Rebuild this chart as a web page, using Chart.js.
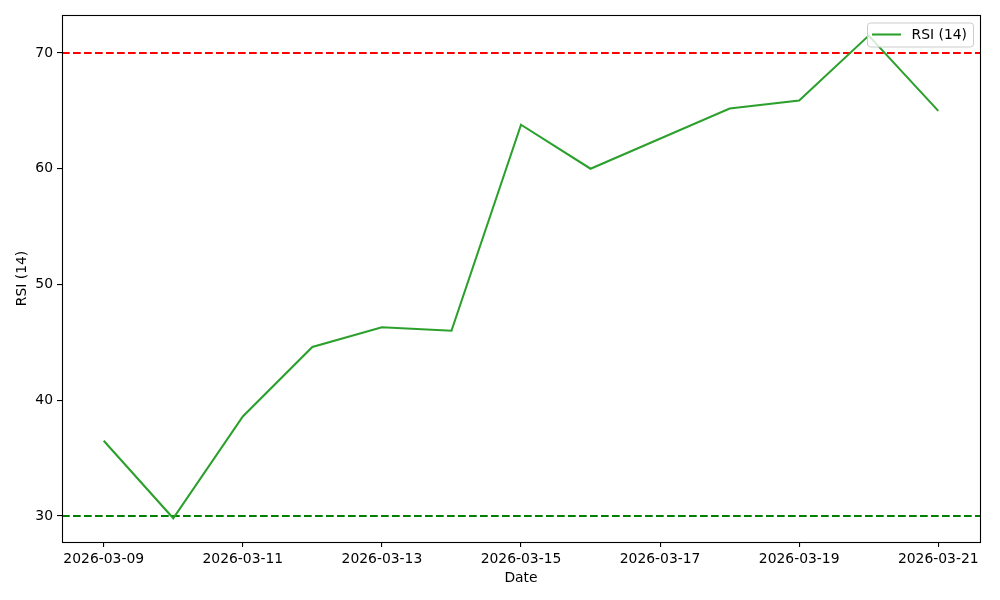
<!DOCTYPE html>
<html>
<head>
<meta charset="utf-8">
<script src="https://cdn.jsdelivr.net/npm/chart.js"></script>
<style>
  html, body { margin: 0; padding: 0; background: #fff; }
  #wrap { width: 1000px; height: 600px; }
</style>
</head>
<body>
<div id="wrap"><canvas id="chart" width="1000" height="600"></canvas></div>
<script>
// RSI readings (2026-03-17 has no point in the source)
const dates = ["2026-03-09", "2026-03-10", "2026-03-11", "2026-03-12", "2026-03-13", "2026-03-14",
               "2026-03-15", "2026-03-16", "2026-03-18", "2026-03-19", "2026-03-20", "2026-03-21"];
const rsiValues = [36.5, 29.8, 38.6, 44.6, 46.3, 46.0, 63.8, 60.0, 65.2, 65.9, 71.5, 65.0];
const xTickLabels = ["2026-03-09", "2026-03-11", "2026-03-13", "2026-03-15", "2026-03-17", "2026-03-19", "2026-03-21"];
const yTickValues = [30, 40, 50, 60, 70];
const overbought = 70;
const oversold = 30;

const DAY = 86400000;
const t0 = Date.parse(dates[0]);
const dayIndex = (d) => Math.round((Date.parse(d) - t0) / DAY);
const points = dates.map((d, i) => ({ x: dayIndex(d), y: rsiValues[i] }));
const lastDay = dayIndex(dates[dates.length - 1]);
const pad = lastDay * 0.05;

const fmtDay = (v) => {
    const dt = new Date(t0 + v * DAY);
    return dt.toISOString().slice(0, 10);
};

const FONT = "'DejaVu Sans', sans-serif";
const FSIZE = 13.9;
const LW = 2.08;

// horizontal threshold lines, frame and legend box (matplotlib look)
const extras = {
    id: "extras",
    beforeDatasetsDraw(chart) {
        const { ctx, chartArea: a, scales } = chart;
        ctx.save();
        ctx.lineWidth = LW;
        ctx.setLineDash([7.7, 3.3]);
        [[overbought, "#ff0000"], [oversold, "#008000"]].forEach(([v, c]) => {
            const y = scales.y.getPixelForValue(v);
            ctx.strokeStyle = c;
            ctx.beginPath();
            ctx.moveTo(a.left, y);
            ctx.lineTo(a.right, y);
            ctx.stroke();
        });
        ctx.restore();
    },
    afterDraw(chart) {
        const { ctx, chartArea: a } = chart;
        ctx.save();
        ctx.strokeStyle = "#000";
        ctx.lineWidth = 1.1;
        ctx.strokeRect(Math.round(a.left) + 0.5, Math.round(a.top) + 0.5,
                       Math.round(a.right - a.left), Math.round(a.bottom - a.top));

        // legend, upper right
        const label = chart.data.datasets[0].label;
        ctx.font = FSIZE + "px " + FONT;
        const tw = ctx.measureText(label).width;
        const bw = 44.5 + tw + 6, bh = 24;
        const bx = a.right - 7 - bw, by = a.top + 7.5;
        ctx.beginPath();
        ctx.roundRect(bx + 0.5, by + 0.5, bw, bh, 3);
        ctx.fillStyle = "rgba(255,255,255,0.8)";
        ctx.fill();
        ctx.strokeStyle = "#cccccc";
        ctx.lineWidth = 1;
        ctx.stroke();
        ctx.strokeStyle = "#2ca02c";
        ctx.lineWidth = LW;
        ctx.beginPath();
        ctx.moveTo(bx + 5, by + 12);
        ctx.lineTo(bx + 34, by + 12);
        ctx.stroke();
        ctx.fillStyle = "#000";
        ctx.textBaseline = "middle";
        ctx.fillText(label, bx + 44.5, by + 12.5);
        ctx.restore();
    }
};

new Chart(document.getElementById("chart"), {
    type: "line",
    data: {
        datasets: [{
            label: "RSI (14)",
            data: points,
            borderColor: "#2ca02c",
            borderWidth: LW,
            pointRadius: 0,
            tension: 0,
            fill: false
        }]
    },
    plugins: [extras],
    options: {
        responsive: false,
        animation: false,
        layout: { padding: { top: 15, right: 20, left: 0, bottom: 0 } },
        plugins: { legend: { display: false }, tooltip: { enabled: false } },
        scales: {
            x: {
                type: "linear",
                min: -pad,
                max: lastDay + pad,
                afterBuildTicks(scale) {
                    scale.ticks = xTickLabels.map(l => ({ value: dayIndex(l) }));
                },
                afterFit(scale) { scale.height = 58; },
                ticks: {
                    callback: (v) => fmtDay(v),
                    color: "#000",
                    font: { family: FONT, size: FSIZE },
                    maxRotation: 0,
                    autoSkip: false,
                    padding: 4
                },
                grid: { drawOnChartArea: false, drawTicks: true, tickLength: 5, color: "#000", lineWidth: 1.1 },
                border: { display: false },
                title: { display: true, text: "Date", color: "#000", font: { family: FONT, size: FSIZE }, padding: { top: 2, bottom: 13 } }
            },
            y: {
                min: 27.75,
                max: 73.28,
                afterBuildTicks(scale) {
                    scale.ticks = yTickValues.map(v => ({ value: v }));
                },
                afterFit(scale) { scale.width = 62; },
                ticks: {
                    color: "#000",
                    font: { family: FONT, size: FSIZE },
                    padding: 4
                },
                grid: { drawOnChartArea: false, drawTicks: true, tickLength: 5, color: "#000", lineWidth: 1.1 },
                border: { display: false },
                title: { display: true, text: "RSI (14)", color: "#000", font: { family: FONT, size: FSIZE }, padding: { top: 14, bottom: 4 } }
            }
        }
    }
});
</script>
</body>
</html>
